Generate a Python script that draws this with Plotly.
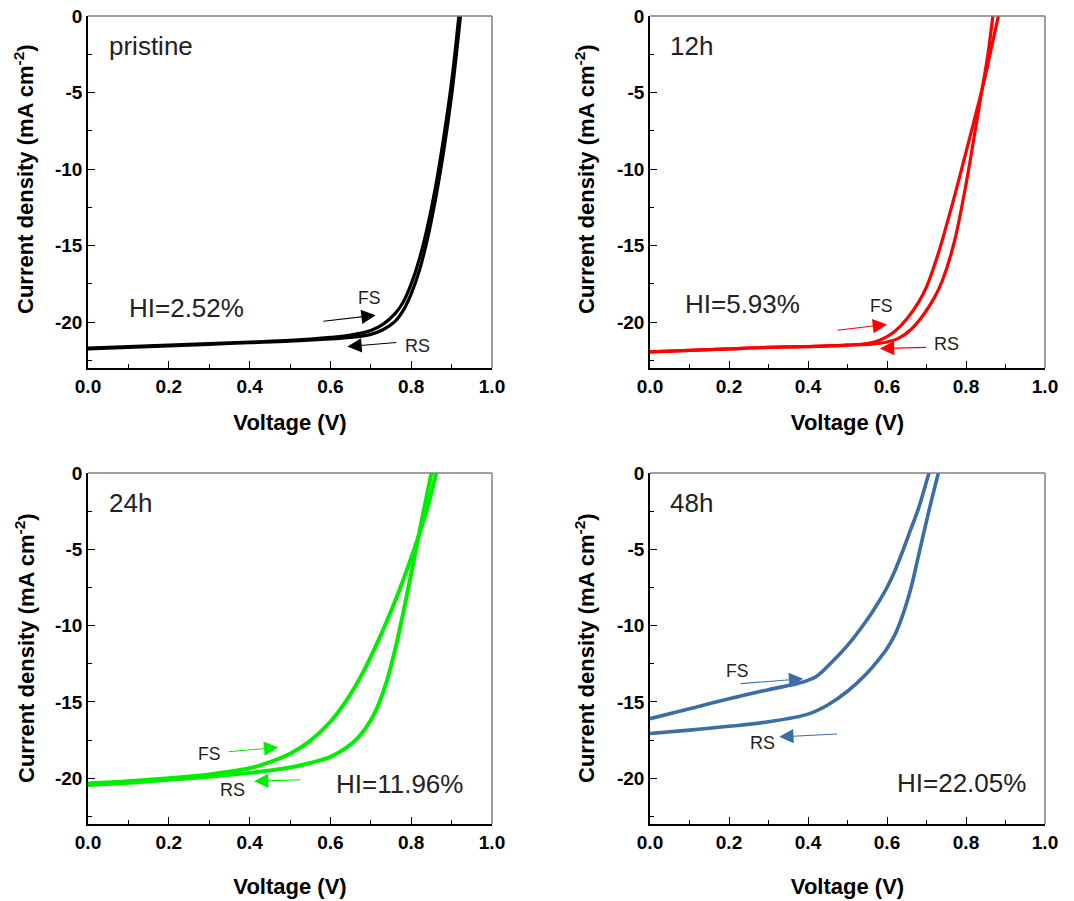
import plotly.graph_objects as go

# ---------------- data ----------------
# pristine
V_pr_fs = [0, 0.1, 0.2, 0.3, 0.4, 0.5, 0.6, 0.65, 0.7, 0.73, 0.76, 0.78, 0.8, 0.82, 0.84, 0.86, 0.88, 0.9, 0.918]
J_pr_fs = [-21.7, -21.6, -21.5, -21.4, -21.3, -21.2, -21.0, -20.85, -20.55, -20.15, -19.45, -18.7, -17.5, -15.9, -13.8, -11.2, -8.0, -4.3, 0]
V_pr_rs = [0, 0.1, 0.2, 0.3, 0.4, 0.5, 0.6, 0.65, 0.7, 0.73, 0.76, 0.78, 0.8, 0.82, 0.84, 0.86, 0.88, 0.9, 0.922]
J_pr_rs = [-21.75, -21.65, -21.55, -21.45, -21.35, -21.25, -21.1, -21.0, -20.8, -20.5, -19.95, -19.25, -18.15, -16.65, -14.6, -12.0, -8.9, -5.2, 0]

# 12 h
V_12_fs = [0, 0.1, 0.2, 0.3, 0.4, 0.5, 0.55, 0.58, 0.6, 0.62, 0.65, 0.68, 0.7, 0.73, 0.76, 0.79, 0.82, 0.85, 0.87, 0.882]
J_12_fs = [-21.95, -21.85, -21.75, -21.65, -21.6, -21.5, -21.4, -21.2, -20.95, -20.6, -19.8, -18.7, -17.7, -15.5, -12.8, -9.9, -6.9, -3.8, -1.4, 0]
V_12_rs = [0, 0.1, 0.2, 0.3, 0.4, 0.5, 0.56, 0.6, 0.63, 0.66, 0.69, 0.72, 0.74, 0.77, 0.8, 0.82, 0.84, 0.855, 0.868]
J_12_rs = [-21.95, -21.85, -21.75, -21.65, -21.6, -21.5, -21.45, -21.3, -21.05, -20.5, -19.6, -18.4, -17.3, -14.8, -11.0, -8.0, -4.9, -2.6, 0]

# 24 h
V_24_fs = [0, 0.1, 0.2, 0.3, 0.4, 0.45, 0.5, 0.55, 0.6, 0.64, 0.68, 0.72, 0.76, 0.79, 0.82, 0.84, 0.862]
J_24_fs = [-20.35, -20.2, -20.0, -19.75, -19.35, -18.95, -18.4, -17.55, -16.3, -14.9, -13.1, -10.9, -8.4, -6.3, -4.0, -2.3, 0]
V_24_rs = [0, 0.1, 0.2, 0.3, 0.4, 0.5, 0.55, 0.6, 0.64, 0.67, 0.7, 0.72, 0.74, 0.76, 0.78, 0.8, 0.82, 0.835, 0.85]
J_24_rs = [-20.45, -20.3, -20.1, -19.9, -19.65, -19.3, -19.0, -18.6, -18.0, -17.3, -16.2, -15.1, -13.6, -11.6, -9.2, -6.6, -3.9, -1.95, 0]

# 48 h
V_48_fs = [0, 0.1, 0.2, 0.3, 0.38, 0.42, 0.46, 0.5, 0.55, 0.58, 0.6, 0.62, 0.64, 0.66, 0.68, 0.706]
J_48_fs = [-16.1, -15.45, -14.8, -14.2, -13.75, -13.35, -12.4, -11.3, -9.6, -8.4, -7.5, -6.4, -5.1, -3.7, -2.3, 0]
V_48_rs = [0, 0.1, 0.2, 0.3, 0.4, 0.45, 0.5, 0.55, 0.58, 0.6, 0.62, 0.64, 0.66, 0.68, 0.705, 0.73]
J_48_rs = [-17.07, -16.85, -16.6, -16.3, -15.8, -15.2, -14.3, -13.1, -12.2, -11.5, -10.6, -9.3, -7.6, -5.4, -2.6, 0]

V_ticks = [0, 0.2, 0.4, 0.6, 0.8, 1.0]
V_ticktext = ["0.0", "0.2", "0.4", "0.6", "0.8", "1.0"]
J_ticks = [-20, -15, -10, -5, 0]
J_ticktext = ["-20", "-15", "-10", "-5", "0"]

panels = [
    dict(name="pristine", color="#000000", width=3.2,
         fs=(V_pr_fs, J_pr_fs), rs=(V_pr_rs, J_pr_rs),
         hi="HI=2.52%", hi_pos=(0.245, -19.1),
         fs_arrow=((0.579, -19.96), (0.712, -19.55)), fs_txt=(0.695, -18.45),
         rs_arrow=((0.767, -21.33), (0.642, -21.6)), rs_txt=(0.815, -21.55)),
    dict(name="12h", color="#ff0000", width=3.2,
         fs=(V_12_fs, J_12_fs), rs=(V_12_rs, J_12_rs),
         hi="HI=5.93%", hi_pos=(0.235, -18.85),
         fs_arrow=((0.471, -20.55), (0.60, -20.15)), fs_txt=(0.585, -18.98),
         rs_arrow=((0.703, -21.65), (0.582, -21.72)), rs_txt=(0.75, -21.4)),
    dict(name="24h", color="#00ee00", width=4,
         fs=(V_24_fs, J_24_fs), rs=(V_24_rs, J_24_rs),
         hi="HI=11.96%", hi_pos=(0.772, -20.4),
         fs_arrow=((0.344, -18.27), (0.471, -17.98)), fs_txt=(0.30, -18.4),
         rs_arrow=((0.529, -20.1), (0.411, -20.2)), rs_txt=(0.358, -20.8)),
    dict(name="48h", color="#3a6ea5", width=3.6,
         fs=(V_48_fs, J_48_fs), rs=(V_48_rs, J_48_rs),
         hi="HI=22.05%", hi_pos=(0.789, -20.33),
         fs_arrow=((0.226, -13.81), (0.388, -13.48)), fs_txt=(0.219, -13.0),
         rs_arrow=((0.477, -17.1), (0.327, -17.29)), rs_txt=(0.285, -17.72)),
]

# the page body margin is removed by a post-script, so window pixels == figure pixels
W, H = 1074, 901
# plot-area boxes in window pixels: (left, right, top, bottom)
boxes = [(88, 492, 16, 368), (650, 1045, 16, 368), (88, 492, 473, 824), (650, 1045, 473, 824)]
# y-title centres in window pixels (x, y)
ytitle_pos = [(24, 179), (585, 179), (25, 648), (585, 648)]

fig = go.Figure()
FONT = "Liberation Sans"

for i, (p, b) in enumerate(zip(panels, boxes)):
    n = i + 1
    xa = "x" if n == 1 else f"x{n}"
    ya = "y" if n == 1 else f"y{n}"
    for key in ("fs", "rs"):
        vx, jy = p[key]
        fig.add_trace(go.Scatter(x=vx, y=jy, mode="lines", xaxis=xa, yaxis=ya,
                                 line=dict(color=p["color"], width=p["width"], shape="spline", smoothing=1.0),
                                 showlegend=False, hoverinfo="skip"))
    l, r, t, bt = b
    xd = [l / W, r / W]
    yd = [1 - bt / H, 1 - t / H]
    xkey = "xaxis" if n == 1 else f"xaxis{n}"
    ykey = "yaxis" if n == 1 else f"yaxis{n}"
    fig.update_layout(**{
        xkey: dict(domain=xd, anchor=ya, range=[0, 1.0], tickvals=V_ticks, ticktext=V_ticktext,
                   automargin=False, ticklabeloverflow="allow",
                   ticks="inside", ticklen=7, tickwidth=1.2, tickcolor="#000",
                   minor=dict(ticks="inside", ticklen=4, tickwidth=1.2, tickcolor="#000", tick0=0, dtick=0.1),
                   showline=True, linecolor="#000", linewidth=1.5, showgrid=False, zeroline=False,
                   tickfont=dict(family=FONT, size=19, color="#000", weight="bold"),
                   title=dict(text="Voltage (V)", standoff=19 if n <= 2 else 27,
                              font=dict(family=FONT, size=22, color="#000", weight="bold"))),
        ykey: dict(domain=yd, anchor=xa, range=[-23, 0], tickvals=J_ticks, ticktext=J_ticktext,
                   automargin=False, ticklabeloverflow="allow",
                   ticks="inside", ticklen=7, tickwidth=1.2, tickcolor="#000",
                   minor=dict(ticks="inside", ticklen=4, tickwidth=1.2, tickcolor="#000", tick0=0, dtick=2.5),
                   showline=True, linecolor="#000", linewidth=1.5, showgrid=False, zeroline=False,
                   tickfont=dict(family=FONT, size=19, color="#000", weight="bold")),
    })
    # y-axis title as rotated text
    tx_, ty_ = ytitle_pos[i]
    fig.add_annotation(xref="paper", yref="paper", x=tx_ / W, y=1 - ty_ / H,
                       text="Current density (mA cm<sup>-2</sup>)", textangle=-90, showarrow=False,
                       xanchor="center", yanchor="middle",
                       font=dict(family=FONT, size=22, color="#000", weight="bold"))
    xdom = f"{xa} domain"
    ydom = f"{ya} domain"
    # grey top and right frame
    fig.add_shape(type="line", xref=xdom, yref=ydom, x0=0, x1=1, y0=1, y1=1,
                  line=dict(color="#7f7f7f", width=1.5))
    fig.add_shape(type="line", xref=xdom, yref=ydom, x0=1, x1=1, y0=0, y1=1,
                  line=dict(color="#7f7f7f", width=1.5))
    # panel label
    fig.add_annotation(xref=xa, yref=ya, x=0.046, y=-1.95, text=p["name"], showarrow=False,
                       xanchor="left", yanchor="middle",
                       font=dict(family=FONT, size=26, color="#222"))
    # HI text
    fig.add_annotation(xref=xa, yref=ya, x=p["hi_pos"][0], y=p["hi_pos"][1], text=p["hi"], showarrow=False,
                       xanchor="center", yanchor="middle",
                       font=dict(family=FONT, size=26, color="#222"))
    # FS / RS labels
    fig.add_annotation(xref=xa, yref=ya, x=p["fs_txt"][0], y=p["fs_txt"][1], text="FS", showarrow=False,
                       font=dict(family=FONT, size=17.5, color="#222"))
    fig.add_annotation(xref=xa, yref=ya, x=p["rs_txt"][0], y=p["rs_txt"][1], text="RS", showarrow=False,
                       font=dict(family=FONT, size=18, color="#222"))
    # arrows
    for key in ("fs_arrow", "rs_arrow"):
        (tx, ty), (hx, hy) = p[key]
        fig.add_annotation(xref=xa, yref=ya, axref=xa, ayref=ya, x=hx, y=hy, ax=tx, ay=ty,
                           text="", showarrow=True, arrowhead=2, arrowsize=2.6, arrowwidth=1.1,
                           arrowcolor=p["color"], standoff=0, startstandoff=0)

fig.update_layout(width=W, height=H, margin=dict(l=0, r=0, t=0, b=0),
                  paper_bgcolor="white", plot_bgcolor="white", showlegend=False)

fig.write_html("out.html", config={"displayModeBar": False},
               post_script="document.body.style.margin='0';document.body.style.overflow='hidden';")
